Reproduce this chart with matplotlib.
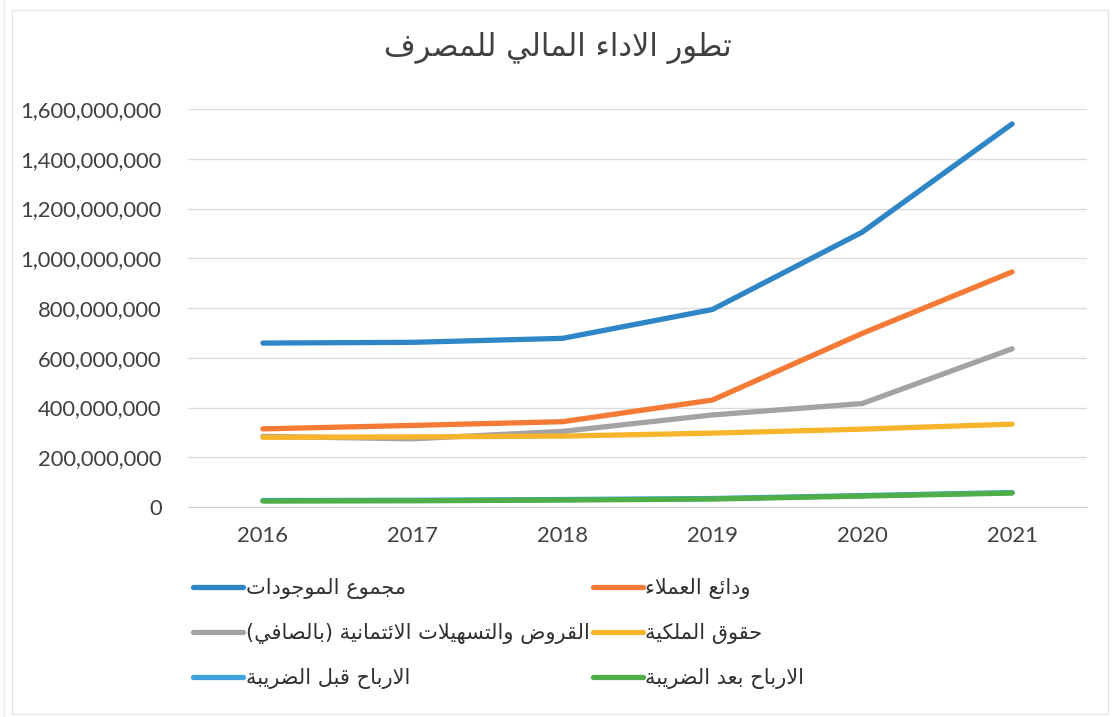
import matplotlib
matplotlib.use('Agg')
import matplotlib.pyplot as plt
from matplotlib.ticker import FuncFormatter
from matplotlib.lines import Line2D
from matplotlib.patches import Rectangle

# data (values in units)
years = ['2016', '2017', '2018', '2019', '2020', '2021']
total_assets = [659e6, 662e6, 678e6, 794e6, 1105e6, 1540e6]
deposits = [314e6, 328e6, 343e6, 430e6, 698e6, 945e6]
loans_net = [284e6, 274e6, 304e6, 370e6, 416e6, 636e6]
equity = [280e6, 282e6, 285e6, 297e6, 313e6, 333e6]
profit_before_tax = [26e6, 27e6, 30e6, 34e6, 46e6, 58e6]
profit_after_tax = [24e6, 25e6, 28e6, 32e6, 44e6, 56e6]

title_txt = 'تطور الاداء المالي للمصرف'
names = ['مجموع الموجودات', 'ودائع العملاء', 'القروض والتسهيلات الائتمانية (بالصافي)',
         'حقوق الملكية', 'الارباح قبل الضريبة', 'الارباح بعد الضريبة']
colors = ['#2f86c6', '#f47a36', '#a3a3a5', '#f7b52c', '#3fa2dd', '#4fae48']

# --- tiny arabic shaper (presentation forms + visual order) ---
DUAL = {'ئ': 0xFE89, 'ب': 0xFE8F, 'ت': 0xFE95, 'ث': 0xFE99, 'ج': 0xFE9D, 'ح': 0xFEA1,
        'خ': 0xFEA5, 'س': 0xFEB1, 'ش': 0xFEB5, 'ص': 0xFEB9, 'ض': 0xFEBD, 'ط': 0xFEC1,
        'ظ': 0xFEC5, 'ع': 0xFEC9, 'غ': 0xFECD, 'ف': 0xFED1, 'ق': 0xFED5, 'ك': 0xFED9,
        'ل': 0xFEDD, 'م': 0xFEE1, 'ن': 0xFEE5, 'ه': 0xFEE9, 'ي': 0xFEF1, 'ى': 0xFEEF}
RIGHT = {'آ': 0xFE81, 'أ': 0xFE83, 'ؤ': 0xFE85, 'إ': 0xFE87, 'ا': 0xFE8D, 'ة': 0xFE93,
         'د': 0xFEA9, 'ذ': 0xFEAB, 'ر': 0xFEAD, 'ز': 0xFEAF, 'و': 0xFEED}
NONE = {'ء': 0xFE80}
LAMALEF = {'ا': 0xFEFB, 'أ': 0xFEF7, 'إ': 0xFEF9, 'آ': 0xFEF5}


def shape(s):
    # merge lam + alef first
    chars = []
    i = 0
    while i < len(s):
        if s[i] == 'ل' and i + 1 < len(s) and s[i + 1] in LAMALEF:
            chars.append(('LA', LAMALEF[s[i + 1]]))
            i += 2
        else:
            chars.append(s[i])
            i += 1

    def joins_left(c):  # can connect to next letter
        return c in DUAL

    def joins_right(c):  # can connect to previous letter
        return c in DUAL or c in RIGHT or isinstance(c, tuple)

    out = []
    for k, c in enumerate(chars):
        prev = chars[k - 1] if k > 0 else None
        nxt = chars[k + 1] if k + 1 < len(chars) else None
        link_prev = prev is not None and joins_left(prev) and joins_right(c)
        if isinstance(c, tuple):
            out.append(chr(c[1] + (1 if link_prev else 0)))
        elif c in DUAL:
            link_next = nxt is not None and joins_right(nxt)
            if link_prev and link_next:
                out.append(chr(DUAL[c] + 3))
            elif link_next:
                out.append(chr(DUAL[c] + 2))
            elif link_prev:
                out.append(chr(DUAL[c] + 1))
            else:
                out.append(chr(DUAL[c]))
        elif c in RIGHT:
            out.append(chr(RIGHT[c] + (1 if link_prev else 0)))
        elif c in NONE:
            out.append(chr(NONE[c]))
        else:
            out.append(c)
    vis = ''.join(reversed(out))
    return vis.translate(str.maketrans('()', ')('))


plt.rcParams['font.family'] = ['Lato', 'DejaVu Sans']

fig = plt.figure(figsize=(11.12, 7.17), dpi=100, facecolor='white')
ax = fig.add_axes([188 / 1112, 1 - 507 / 717, (1087 - 188) / 1112, (507 - 109) / 717])

series = [total_assets, deposits, loans_net, equity, profit_before_tax, profit_after_tax]
x = list(range(len(years)))
handles = []
for vals, name, col in zip(series, names, colors):
    h, = ax.plot(x, vals, color=col, lw=3.8, solid_capstyle='round', solid_joinstyle='round',
                 label=shape(name))
    handles.append(h)

ax.set_xlim(-0.5, len(years) - 0.5)
ax.set_ylim(0, 1.6e9)
ax.set_yticks([i * 2e8 for i in range(9)])
ax.yaxis.set_major_formatter(FuncFormatter(lambda v, p: '{:,.0f}'.format(v)))
ax.set_xticks(x)
ax.set_xticklabels(years)
ax.tick_params(axis='both', length=0, labelsize=15.8, colors='#404040')
ax.tick_params(axis='y', pad=19)
ax.tick_params(axis='x', pad=14)
ax.grid(axis='y', color='#dcdcdc', lw=1)
ax.set_axisbelow(True)
for sp in ['top', 'right', 'left']:
    ax.spines[sp].set_visible(False)
ax.spines['bottom'].set_color('#d0d0d0')

fig.text(0.502, 1 - 48 / 717, shape(title_txt), ha='center', va='center',
         fontsize=22, color='#404040', family='DejaVu Sans')

order = [0, 2, 4, 1, 3, 5]
leg = fig.legend([handles[i] for i in order], [shape(names[i]) for i in order],
                 ncol=2, loc='upper left', bbox_to_anchor=(193 / 1112, 1 - 578 / 717),
                 frameon=False, prop={'family': 'DejaVu Sans', 'size': 15},
                 handlelength=2.4, handletextpad=0.12, columnspacing=0.15,
                 labelspacing=1.15, borderpad=0, borderaxespad=0)
for t in leg.get_texts():
    t.set_color('#303030')

# faint frame of the scanned chart area
fig.add_artist(Rectangle((12 / 1112, 1 - 714 / 717), 1096 / 1112, 704 / 717,
                         transform=fig.transFigure, fill=False, ec='#e6e6e6', lw=1))
fig.add_artist(Line2D([4 / 1112, 4 / 1112], [0, 1], transform=fig.transFigure,
                      color='#ececec', lw=1))

fig.savefig('out.png', dpi=100)
